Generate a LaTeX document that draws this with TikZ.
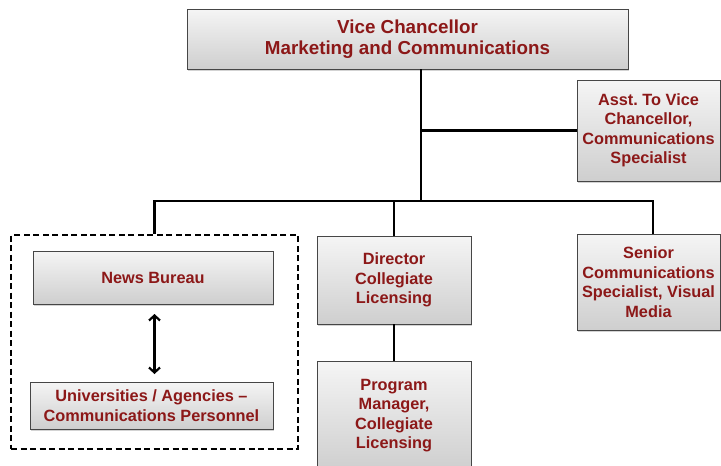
\documentclass[tikz,border=0pt]{standalone}
\usepackage{fontspec}
\setmainfont{Liberation Sans}
\usetikzlibrary{shadows,arrows.meta}
\definecolor{txtred}{RGB}{140,24,24}
\definecolor{boxborder}{RGB}{70,70,70}
\tikzset{
  orgbox/.style={draw=boxborder, line width=0.9pt, top color=gray!8, bottom color=gray!38,
    drop shadow={shadow xshift=0.6pt, shadow yshift=-2pt, opacity=0.35},
    text=txtred, font=\bfseries\fontsize{16.3}{19.5}\selectfont, align=center,
    inner sep=0pt, outer sep=0pt},
  conn/.style={draw=black, line width=2.4pt},
  dashframe/.style={draw=black, line width=2.3pt, dash pattern=on 6pt off 3.5pt, inner sep=0pt},
  twoway/.style={line width=2.2pt, {Straight Barb[length=5pt,width=11pt]}-{Straight Barb[length=5pt,width=11pt]}}
}
\begin{document}
\frenchspacing
\begin{tikzpicture}[x=1pt,y=-1pt]
\useasboundingbox (0,0) rectangle (721,466);
% boxes
\node[orgbox, minimum width=441pt, minimum height=60pt, font=\bfseries\fontsize{18.8}{21}\selectfont] (top) at (407.5,39) {Vice Chancellor\\Marketing and Communications};
\node[orgbox, minimum width=143pt, minimum height=101pt] (asst) at (648.5,130.5) {Asst. To Vice\\Chancellor,\\Communications\\Specialist};
\node[orgbox, minimum width=143pt, minimum height=96pt] (senior) at (648.5,282) {Senior\\Communications\\Specialist, Visual\\Media};
\node[orgbox, minimum width=154pt, minimum height=88pt] (director) at (394,280) {Director\\Collegiate\\Licensing};
\node[orgbox, minimum width=154pt, minimum height=109pt] (program) at (394,415.5) {Program\\Manager,\\Collegiate\\Licensing};
\node[dashframe, minimum width=287pt, minimum height=214pt] (frame) at (154.5,342) {};
\node[orgbox, minimum width=240pt, minimum height=53pt] (news) at (153,277.5) {News Bureau};
\node[orgbox, minimum width=243pt, minimum height=47pt] (univ) at (151.5,405.5) {Universities / Agencies –\\Communications Personnel};
% connectors
\coordinate (hub) at (421,201);
\coordinate (srdrop) at (653,201);
\draw[conn] (top.south -| hub) -- (hub);
\draw[conn] (asst.west) -- (asst.west -| hub);
\draw[conn] (frame.north) |- (hub) -| (senior.north -| srdrop);
\draw[conn] (director.north) -- (director.north |- hub);
\draw[conn] (director.south) -- (program.north);
\draw[twoway, shorten <=10pt, shorten >=8pt] (news.south -| frame.north) -- (univ.north -| frame.north);
\end{tikzpicture}
\end{document}
